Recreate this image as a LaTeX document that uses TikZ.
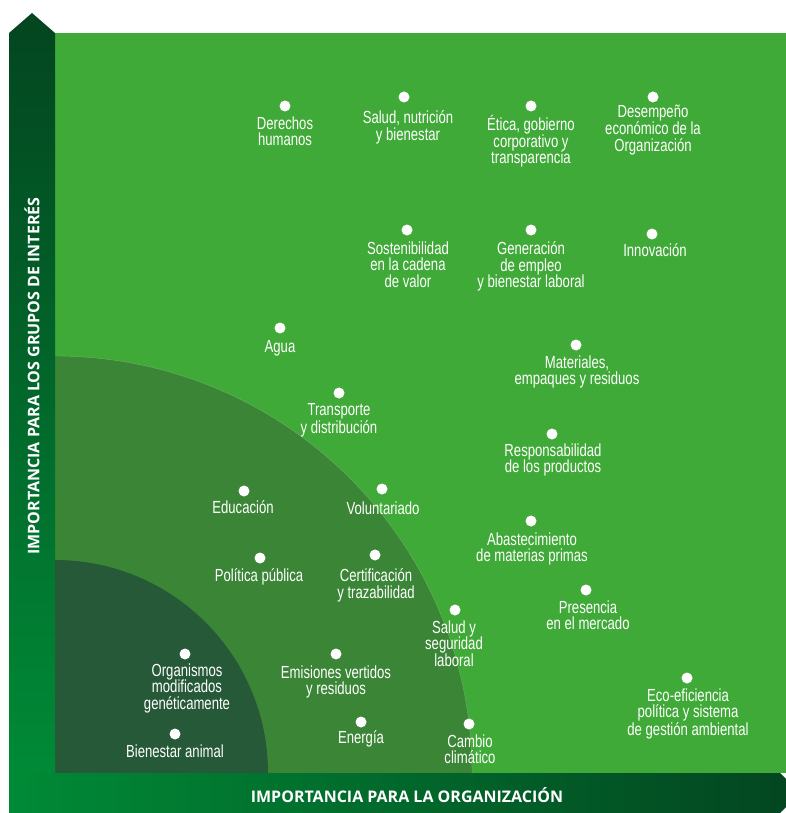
\documentclass[tikz,border=0pt]{standalone}
\usepackage{fontspec}
\setmainfont{Liberation Sans}
\newfontfamily\condensada[FakeStretch=0.75]{Liberation Sans}
\newfontfamily\ejes{Open Sans}
\usepackage{tikz}
\usetikzlibrary{shapes}
\usetikzlibrary{calc}
\definecolor{verde-claro}{RGB}{63,170,55}
\definecolor{verde-medio}{RGB}{58,134,54}
\definecolor{verde-oscuro}{RGB}{38,89,56}
\definecolor{verde-borde}{RGB}{112,178,100}
\definecolor{verde-barra}{RGB}{3,69,32}
\definecolor{verde-vivo}{RGB}{0,138,54}
\tikzstyle{punto}=[circle, fill=white, inner sep=0pt, minimum size=11pt]
\tikzstyle{tema}=[text=white, align=center, inner sep=0pt, anchor=north, font=\condensada\fontsize{17.5}{16.5}\selectfont]
\tikzstyle{eje}=[text=white, inner sep=0pt, font=\ejes\bfseries\fontsize{16}{18}\selectfont]
\newcommand{\asunto}[4]{
	\node[punto] (#1) at #2 {};
	\node[tema] (#1-t) at ($#3+(0,-6.5)$) {#4};
}

\begin{document}
\begin{tikzpicture}[x=1pt, y=-1pt]
	\useasboundingbox (0,0) rectangle (786,813);
	\fill[verde-claro] (55,33) rectangle (786,773);
	\fill[verde-medio] (55,773) -- ++(417,0) arc[start angle=0, end angle=90, radius=417pt] -- cycle;
	\draw[verde-borde, line width=0.4pt] (472,773) arc[start angle=0, end angle=90, radius=417pt];
	\fill[verde-oscuro] (55,773) -- ++(213,0) arc[start angle=0, end angle=90, radius=213pt] -- cycle;
	\shade[top color=verde-barra, bottom color=verde-vivo] (9,33) -- (32,13) -- (55,33) -- (55,773) -- (9,773) -- cycle;
	\shade[left color=verde-vivo, right color=verde-barra] (9,773) -- (780,773) -- (800,793) -- (780,813) -- (9,813) -- cycle;
	\node[eje] (eje-x) at (407,795) {IMPORTANCIA PARA LA ORGANIZACIÓN};
	\node[eje, rotate=90] (eje-y) at (32,376) {IMPORTANCIA PARA LOS GRUPOS DE INTERÉS};
	\asunto{derechos}{(285,106)}{(285,123)}{Derechos\\humanos}
	\asunto{nutricion}{(404,97)}{(408,117)}{Salud, nutrición\\y bienestar}
	\asunto{etica}{(531,106)}{(531,122)}{Ética, gobierno\\corporativo y\\transparencia}
	\asunto{desempeno}{(653,97)}{(653,111)}{Desempeño\\económico de la\\Organización}
	\asunto{cadena}{(407,230)}{(408,248)}{Sostenibilidad\\en la cadena\\de valor}
	\asunto{empleo}{(531,230)}{(531,248)}{Generación\\de empleo\\y bienestar laboral}
	\asunto{innovacion}{(652,234)}{(655,250)}{Innovación}
	\asunto{agua}{(280,328)}{(280,347)}{Agua}
	\asunto{materiales}{(576,345)}{(577,362)}{Materiales,\\empaques y residuos}
	\asunto{transporte}{(339,393)}{(339,410)}{Transporte\\y distribución}
	\asunto{productos}{(552,434)}{(553,450)}{Responsabilidad\\de los productos}
	\asunto{educacion}{(244,491)}{(243,507)}{Educación}
	\asunto{voluntariado}{(382,489)}{(383,508)}{Voluntariado}
	\asunto{abastecimiento}{(531,521)}{(532,539)}{Abastecimiento\\de materias primas}
	\asunto{politica}{(260,558)}{(259,575)}{Política pública}
	\asunto{certificacion}{(375,555)}{(376,575)}{Certificación\\y trazabilidad}
	\asunto{mercado}{(586,590)}{(588,607)}{Presencia\\en el mercado}
	\asunto{laboral}{(455,610)}{(454,627)}{Salud y\\seguridad\\laboral}
	\asunto{organismos}{(185,654)}{(187,670)}{Organismos\\modificados\\genéticamente}
	\asunto{emisiones}{(336,654)}{(336,672)}{Emisiones vertidos\\y residuos}
	\asunto{ecoeficiencia}{(687,678)}{(688,695)}{Eco-eficiencia\\política y sistema\\de gestión ambiental}
	\asunto{energia}{(361,722)}{(361,737)}{Energía}
	\asunto{bienestar}{(175,734)}{(175,751)}{Bienestar animal}
	\asunto{cambio}{(469,724)}{(470,741)}{Cambio\\climático}
\end{tikzpicture}
\end{document}
